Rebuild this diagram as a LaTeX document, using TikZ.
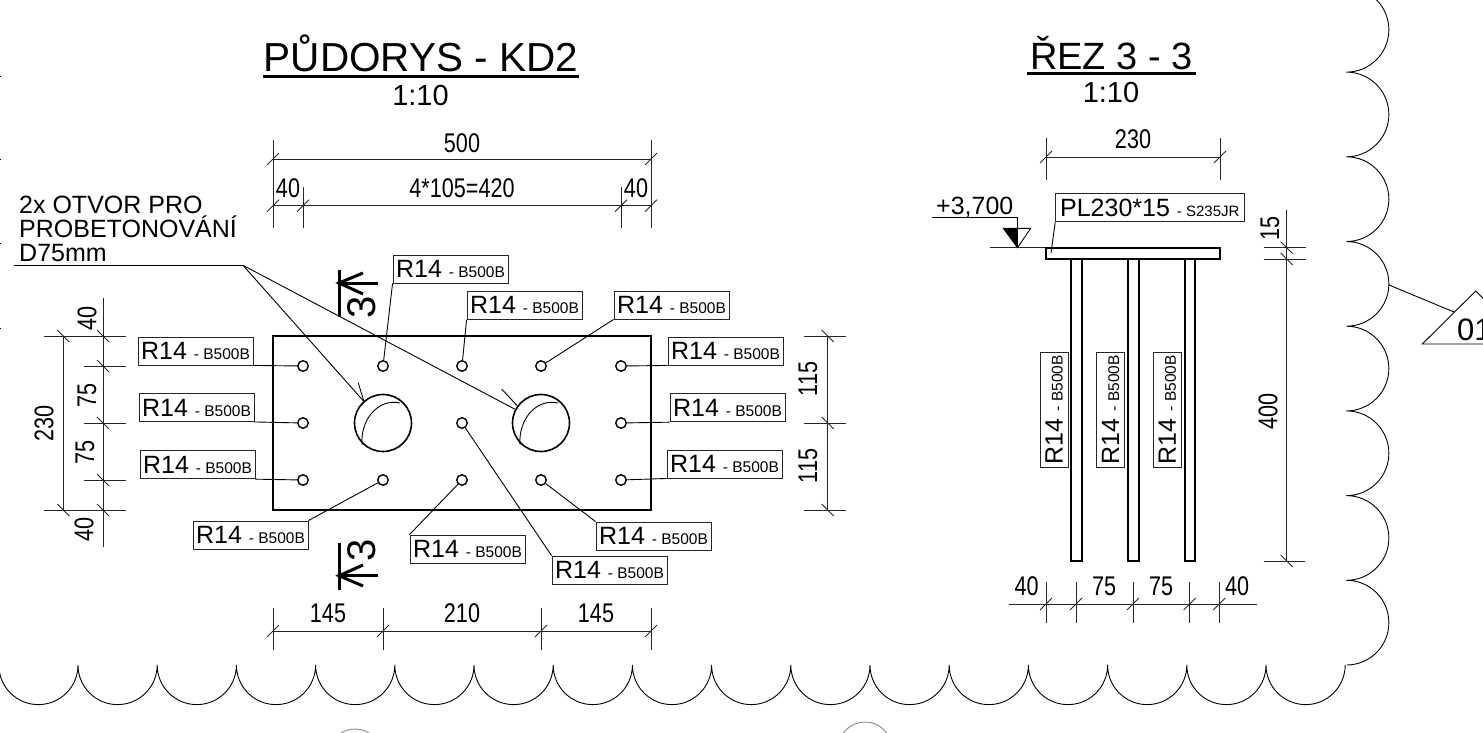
\documentclass[tikz,border=0pt]{standalone}
\usepackage{fontspec}
\setmainfont{Liberation Sans}
\newfontfamily\narrowfont[FakeStretch=0.8]{Liberation Sans}
\newcommand{\rebartext}{R14 {\fontsize{15.5}{15.5}\selectfont - B500B}}
\newcommand{\bumpdown}{arc[start angle=180,end angle=0,radius=39.6]}
\newcommand{\bumpright}{arc[start angle=90,end angle=-90,radius=42.35]}
\newcommand{\tickup}[1]{\draw[dimline] (#1)+(-6,6) -- +(6,-6);}
\newcommand{\tickdown}[1]{\draw[dimline] (#1)+(-6,-6) -- +(6,6);}

\begin{document}
\begin{tikzpicture}[x=1pt,y=1pt,yscale=-1]
\tikzstyle{dimline} = [draw, line width=0.9pt, black!85]
\tikzstyle{thinline} = [draw, line width=0.9pt]
\tikzstyle{steel} = [draw, line width=2pt]
\tikzstyle{sectline} = [draw, line width=3pt]
\tikzstyle{dimtext} = [font=\narrowfont\fontsize{27}{27}\selectfont, inner sep=0pt]
\tikzstyle{rebar} = [rectangle, draw, line width=0.9pt, black!85, text=black, inner sep=0pt,
minimum width=115pt, minimum height=28pt, font=\fontsize{25}{25}\selectfont]
\tikzstyle{hole} = [circle, draw, line width=1.4pt, inner sep=0pt, minimum size=10.5pt]
\tikzstyle{bighole} = [circle, draw, line width=1.6pt, inner sep=0pt, minimum size=57pt]
\useasboundingbox (0,0) rectangle (1483,732);

% titles
\node[anchor=base, inner sep=0pt, font=\fontsize{40.5}{40.5}\selectfont] (titlePlan) at (421,71.5) {PŮDORYS - KD2};
\node[anchor=base, inner sep=0pt, font=\fontsize{29}{29}\selectfont] (scalePlan) at (420.5,105) {1:10};
\node[anchor=base, inner sep=0pt, font=\fontsize{38}{38}\selectfont] (titleCut) at (1111.5,69) {ŘEZ 3 - 3};
\node[anchor=base, inner sep=0pt, font=\fontsize{29}{29}\selectfont] (scaleCut) at (1111,102.7) {1:10};
\draw[line width=3pt] (263,76.7) -- (579,76.7);
\draw[line width=3pt] (1027,73.3) -- (1196,73.3);

% plate in plan
\draw[steel] (273,336) rectangle (651,510);
\node[bighole] (big1) at (383,423) {};
\node[bighole] (big2) at (541,423) {};
\draw[thinline] (362,445) .. controls (360,420) and (378,398) .. (400,403);
\draw[thinline] (520,445) .. controls (518,420) and (536,398) .. (558,403);

% holes, row 1
\node[hole] (h11) at (303,366) {};
\node[hole] (h12) at (383,366) {};
\node[hole] (h13) at (462,366) {};
\node[hole] (h14) at (541,366) {};
\node[hole] (h15) at (621,366) {};
% row 2
\node[hole] (h21) at (303,423) {};
\node[hole] (h23) at (462,423) {};
\node[hole] (h25) at (621,423) {};
% row 3
\node[hole] (h31) at (303,480) {};
\node[hole] (h32) at (383,480) {};
\node[hole] (h33) at (462,480) {};
\node[hole] (h34) at (541,480) {};
\node[hole] (h35) at (621,480) {};

% rebar labels in plan
\node[rebar] (labL1) at (195.5,351) {\rebartext};
\node[rebar] (labL2) at (196.5,407.5) {\rebartext};
\node[rebar] (labL3) at (197.5,464.7) {\rebartext};
\node[rebar] (labR1) at (725.5,351) {\rebartext};
\node[rebar] (labR2) at (727.5,407.7) {\rebartext};
\node[rebar] (labR3) at (724.5,464) {\rebartext};
\node[rebar] (labT1) at (450.5,269) {\rebartext};
\node[rebar] (labT2) at (524.5,305.3) {\rebartext};
\node[rebar] (labT3) at (671.5,305) {\rebartext};
\node[rebar] (labB1) at (250.5,535) {\rebartext};
\node[rebar] (labB2) at (467.5,549) {\rebartext};
\node[rebar] (labB3) at (653.5,536) {\rebartext};
\node[rebar] (labB4) at (609.5,570) {\rebartext};

\draw[thinline] (labL1.south east) -- (h11);
\draw[thinline] (labL2.south east) -- (h21);
\draw[thinline] (labL3.south east) -- (h31);
\draw[thinline] (labR1.south west) -- (h15);
\draw[thinline] (labR2.south west) -- (h25);
\draw[thinline] (labR3.south west) -- (h35);
\draw[thinline] (labT1.south west) -- (h12);
\draw[thinline] (labT2.south west) -- (h13);
\draw[thinline] (labT3.south west) -- (h14);
\draw[thinline] (labB1.north east) -- (h32);
\draw[thinline] (labB2.north west) -- (h33);
\draw[thinline] (labB3.north west) -- (h34);
\draw[thinline] (labB4.north west) -- (h23);

% note with its leaders
\node[anchor=south west, align=left, inner sep=0pt, font=\fontsize{25}{24}\selectfont] (note) at (19,262)
{2x OTVOR PRO\\PROBETONOVÁNÍ\\D75mm};
\coordinate (knee) at (243,265.3);
\draw[thinline] (14,265.3) -- (knee);
\draw[thinline] (knee) -- (big1);
\draw[thinline] (knee) -- (big2);
\draw[thinline] (big1.131) -- ++(-5.6,-18.3);
\draw[thinline] (big2.144) -- ++(-15.6,-16.7);

% dimensions above plan
\draw[dimline] (273,159) -- (651,159);
\draw[dimline] (273,205.7) -- (651,205.7);
\draw[dimline] (273,140) -- (273,228);
\draw[dimline] (651,140) -- (651,228);
\draw[dimline] (303,187) -- (303,228);
\draw[dimline] (621,187) -- (621,228);
\tickup{273,159} \tickup{651,159}
\tickup{273,205.7} \tickup{303,205.7} \tickup{621,205.7} \tickup{651,205.7}
\node[dimtext] (d500) at (462,143) {500};
\node[dimtext] (d420) at (462,188) {4*105=420};
\node[dimtext] (d40a) at (288,188) {40};
\node[dimtext] (d40b) at (636,188) {40};

% dimensions below plan
\draw[dimline] (273,631) -- (651,631);
\draw[dimline] (273,608) -- (273,650);
\draw[dimline] (383,608) -- (383,650);
\draw[dimline] (541,608) -- (541,650);
\draw[dimline] (651,608) -- (651,650);
\tickup{273,631} \tickup{383,631} \tickup{541,631} \tickup{651,631}
\node[dimtext] (d145a) at (328,613) {145};
\node[dimtext] (d210) at (462,613) {210};
\node[dimtext] (d145b) at (596,613) {145};

% dimensions left of plan
\draw[dimline] (63.3,336) -- (63.3,510);
\draw[dimline] (103,298) -- (103,547);
\draw[dimline] (44,336) -- (126,336);
\draw[dimline] (84,366) -- (126,366);
\draw[dimline] (84,423) -- (126,423);
\draw[dimline] (84,480) -- (126,480);
\draw[dimline] (44,510) -- (126,510);
\tickdown{63.3,336} \tickdown{63.3,510}
\tickdown{103,336} \tickdown{103,366} \tickdown{103,423} \tickdown{103,480} \tickdown{103,510}
\node[dimtext, rotate=90] (d40c) at (87,318) {40};
\node[dimtext, rotate=90] (d75a) at (87,395) {75};
\node[dimtext, rotate=90] (d75b) at (85,452) {75};
\node[dimtext, rotate=90] (d40d) at (84,529) {40};
\node[dimtext, rotate=90] (d230a) at (44,423) {230};

% dimensions right of plan
\draw[dimline] (827.7,336) -- (827.7,510);
\draw[dimline] (804,336) -- (846,336);
\draw[dimline] (804,423) -- (846,423);
\draw[dimline] (804,510) -- (846,510);
\tickdown{827.7,336} \tickdown{827.7,423} \tickdown{827.7,510}
\node[dimtext, rotate=90] (d115a) at (808,379) {115};
\node[dimtext, rotate=90] (d115b) at (808,466) {115};

% section marks
\draw[sectline] (339,270) -- (339,317);
\draw[sectline] (339,283) -- (378,283);
\draw[sectline] (363,273) -- (339,283) -- (363,294);
\node[inner sep=0pt, rotate=90, font=\fontsize{40}{40}\selectfont] (cutTop) at (362,307) {3};
\draw[sectline] (339,543) -- (339,590);
\draw[sectline] (339,575.7) -- (378,575.7);
\draw[sectline] (363,565) -- (339,575.7) -- (363,586);
\node[inner sep=0pt, rotate=90, font=\fontsize{40}{40}\selectfont] (cutBot) at (362,550) {3};

% section 3-3
\draw[steel] (1046,248) rectangle (1220,259);
\draw[steel] (1071,259) rectangle (1082,561);
\draw[steel] (1128,259) rectangle (1138.5,561);
\draw[steel] (1184.5,259) rectangle (1195,561);
\node[rebar, rotate=90] (labS1) at (1054,409.8) {\rebartext};
\node[rebar, rotate=90] (labS2) at (1110.7,409.8) {\rebartext};
\node[rebar, rotate=90] (labS3) at (1167.3,409.8) {\rebartext};
\node[rebar, minimum width=188.3pt] (labPL) at (1149.8,207.8) {PL230*15 {\fontsize{15}{15}\selectfont - S235JR}};
\coordinate (plEnd) at (1051,253);
\draw[thinline] (labPL.south west) -- (plEnd);

% level mark
\node[anchor=base west, inner sep=0pt, font=\fontsize{25}{25}\selectfont] (level) at (936,214) {+3,700};
\draw[thinline] (932,217) -- (1017.5,217) -- (1017.5,247.7);
\draw[dimline] (990,247.7) -- (1045,247.7);
\fill (1003.3,228.3) -- (1017.5,228.3) -- (1017.5,247.7) -- cycle;
\draw[thinline] (1003.3,228.3) -- (1030.7,228.3) -- (1017.5,247.7) -- cycle;

% dimensions of section
\draw[dimline] (1046,157) -- (1220,157);
\draw[dimline] (1046,138) -- (1046,180);
\draw[dimline] (1220,138) -- (1220,180);
\tickup{1046,157} \tickup{1220,157}
\node[dimtext] (d230b) at (1133,139) {230};
\draw[dimline] (1286.7,210) -- (1286.7,561);
\draw[dimline] (1263.7,247.7) -- (1306,247.7);
\draw[dimline] (1263.7,259) -- (1306,259);
\draw[dimline] (1263.7,561) -- (1305,561);
\tickdown{1286.7,247.7} \tickdown{1286.7,259} \tickdown{1286.7,561}
\node[dimtext, rotate=90] (d15) at (1270,228) {15};
\node[dimtext, rotate=90] (d400) at (1268,411) {400};
\draw[dimline] (1008.7,604) -- (1256.7,604);
\draw[dimline] (1046,581.7) -- (1046,622.7);
\draw[dimline] (1076,581.7) -- (1076,622.7);
\draw[dimline] (1133,581.7) -- (1133,622.7);
\draw[dimline] (1189.7,581.7) -- (1189.7,622.7);
\draw[dimline] (1219.3,581.7) -- (1219.3,622.7);
\tickup{1046,604} \tickup{1076,604} \tickup{1133,604} \tickup{1189.7,604} \tickup{1219.3,604}
\node[dimtext] (d40e) at (1026.7,586) {40};
\node[dimtext] (d75c) at (1104,586) {75};
\node[dimtext] (d75d) at (1161,586) {75};
\node[dimtext] (d40f) at (1237,586) {40};

% revision cloud
\draw[thinline] (-1.2,665) \bumpdown \bumpdown \bumpdown \bumpdown \bumpdown \bumpdown
\bumpdown \bumpdown \bumpdown \bumpdown \bumpdown \bumpdown
\bumpdown \bumpdown \bumpdown \bumpdown \bumpdown;
\draw[thinline] (1346.5,665) \bumpright \bumpright \bumpright \bumpright
\bumpright \bumpright \bumpright \bumpright;
\draw[thinline] (-3,76) -- (1,76);
\draw[thinline] (-3,159) -- (1,159);
\draw[thinline] (-3,243) -- (1,243);
\draw[thinline] (-3,328) -- (1,328);

% revision triangle
\coordinate (cloudPt) at (1389,285);
\coordinate (triPt) at (1454,312);
\draw[thinline] (1422.3,344) -- (1475.7,291) -- (1529,344) -- cycle;
\draw[thinline] (cloudPt) -- (triPt);
\node[anchor=base west, inner sep=0pt, font=\fontsize{31}{31}\selectfont] (rev) at (1457,340) {01};

% cut-off circles at the lower edge
\draw[line width=0.9pt, black!45] (355,756) circle[radius=27];
\draw[line width=0.9pt, black!45] (865,749) circle[radius=27];
\end{tikzpicture}
\end{document}
